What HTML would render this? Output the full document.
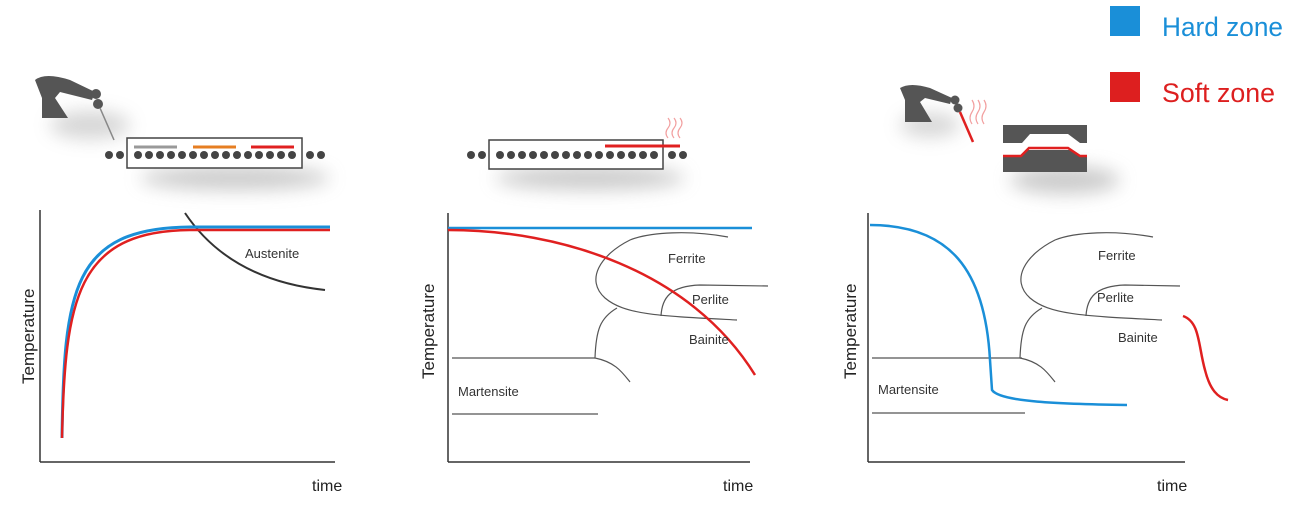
<!DOCTYPE html>
<html><head><meta charset="utf-8"><style>
html,body{margin:0;padding:0;background:#fff;}
svg{display:block;font-family:"Liberation Sans",sans-serif;}
</style></head><body>
<svg width="1299" height="510" viewBox="0 0 1299 510" xmlns="http://www.w3.org/2000/svg">
<defs>
<filter id="sh" x="-30%" y="-60%" width="160%" height="260%"><feGaussianBlur stdDeviation="9"/></filter>
</defs>
<!-- legend -->
<rect x="1110" y="6" width="30" height="30" fill="#1a8fd8"/>
<text x="1162" y="36" font-size="27" fill="#1a8fd8" textLength="121" lengthAdjust="spacingAndGlyphs">Hard zone</text>
<rect x="1110" y="72" width="30" height="30" fill="#dd1f1f"/>
<text x="1162" y="102" font-size="27" fill="#dd1f1f" textLength="113" lengthAdjust="spacingAndGlyphs">Soft zone</text>

<!-- icons panel 1 -->
<g fill="#555">
<ellipse cx="90" cy="125" rx="40" ry="14" fill="#999" opacity="0.4" filter="url(#sh)"/>
<ellipse cx="235" cy="178" rx="95" ry="12" fill="#999" opacity="0.5" filter="url(#sh)"/>
<path d="M35 80 Q45 72 70 80 L95 92 L92 100 L60 92 L55 98 L68 118 L42 118 L42 98 Z"/>
<circle cx="96" cy="94" r="5"/><circle cx="98" cy="104" r="5"/>
<line x1="100" y1="108" x2="114" y2="140" stroke="#888" stroke-width="1.5"/>
<rect x="127" y="138" width="175" height="30" fill="#fff" stroke="#444" stroke-width="1.5"/>
<line x1="134" y1="147" x2="177" y2="147" stroke="#999" stroke-width="3"/>
<line x1="193" y1="147" x2="236" y2="147" stroke="#e67e22" stroke-width="3"/>
<line x1="251" y1="147" x2="294" y2="147" stroke="#e02020" stroke-width="3"/>
<g fill="#444">
<circle cx="109" cy="155" r="4"/><circle cx="120" cy="155" r="4"/>
<circle cx="138" cy="155" r="4"/><circle cx="149" cy="155" r="4"/><circle cx="160" cy="155" r="4"/><circle cx="171" cy="155" r="4"/><circle cx="182" cy="155" r="4"/><circle cx="193" cy="155" r="4"/><circle cx="204" cy="155" r="4"/><circle cx="215" cy="155" r="4"/><circle cx="226" cy="155" r="4"/><circle cx="237" cy="155" r="4"/><circle cx="248" cy="155" r="4"/><circle cx="259" cy="155" r="4"/><circle cx="270" cy="155" r="4"/><circle cx="281" cy="155" r="4"/><circle cx="292" cy="155" r="4"/>
<circle cx="310" cy="155" r="4"/><circle cx="321" cy="155" r="4"/>
</g>
</g>
<!-- icons panel 2 -->
<ellipse cx="590" cy="178" rx="95" ry="12" fill="#999" opacity="0.5" filter="url(#sh)"/>
<rect x="489" y="140" width="174" height="29" fill="#fff" stroke="#444" stroke-width="1.5"/>
<line x1="605" y1="146" x2="680" y2="146" stroke="#e02020" stroke-width="3"/>
<g fill="none" stroke="#f2a0a0" stroke-width="1.2"><path d="M668 118 q4 5 0 10 q-4 5 0 10"/><path d="M674 118 q4 5 0 10 q-4 5 0 10"/><path d="M680 118 q4 5 0 10 q-4 5 0 10"/></g>
<g fill="#444">
<circle cx="471" cy="155" r="4"/><circle cx="482" cy="155" r="4"/>
<circle cx="500" cy="155" r="4"/><circle cx="511" cy="155" r="4"/><circle cx="522" cy="155" r="4"/><circle cx="533" cy="155" r="4"/><circle cx="544" cy="155" r="4"/><circle cx="555" cy="155" r="4"/><circle cx="566" cy="155" r="4"/><circle cx="577" cy="155" r="4"/><circle cx="588" cy="155" r="4"/><circle cx="599" cy="155" r="4"/><circle cx="610" cy="155" r="4"/><circle cx="621" cy="155" r="4"/><circle cx="632" cy="155" r="4"/><circle cx="643" cy="155" r="4"/><circle cx="654" cy="155" r="4"/>
<circle cx="672" cy="155" r="4"/><circle cx="683" cy="155" r="4"/>
</g>
<!-- icons panel 3 -->
<ellipse cx="930" cy="125" rx="30" ry="12" fill="#999" opacity="0.4" filter="url(#sh)"/>
<ellipse cx="1065" cy="180" rx="55" ry="14" fill="#999" opacity="0.5" filter="url(#sh)"/>
<path d="M900 88 Q910 82 930 88 L952 98 L950 104 L925 98 L920 102 L932 122 L905 122 L905 100 Z" fill="#555"/>
<circle cx="955" cy="100" r="4.5" fill="#555"/><circle cx="958" cy="108" r="4.5" fill="#555"/>
<line x1="960" y1="112" x2="973" y2="142" stroke="#e02020" stroke-width="2.5"/>
<g fill="none" stroke="#f2a0a0" stroke-width="1.2"><path d="M972 100 q4 6 0 12 q-4 6 0 12"/><path d="M978 100 q4 6 0 12 q-4 6 0 12"/><path d="M984 100 q4 6 0 12 q-4 6 0 12"/></g>
<path d="M1003 125 H1087 V143 L1080 143 L1068 134 H1030 L1022 143 H1003 Z" fill="#555"/>
<path d="M1003 157 H1020 L1028 150 H1070 L1080 157 H1087 V172 H1003 Z" fill="#555"/>
<path d="M1003 156 H1021 L1029 148 H1068 L1080 156 H1087" stroke="#e02020" stroke-width="2.5" fill="none"/>

<!-- panel 1 chart -->
<g stroke="#333" stroke-width="1.5" fill="none">
<line x1="40" y1="210" x2="40" y2="462"/><line x1="40" y1="462" x2="335" y2="462"/>
<path d="M185 213 Q230 280 325 290" stroke-width="2"/>
</g>
<path d="M62 438 C64 290 72 228 190 227 L330 227" stroke="#1a8fd8" stroke-width="3" fill="none"/>
<path d="M62 438 C65 300 76 231 190 230 L330 230" stroke="#e02020" stroke-width="2.5" fill="none"/>
<text x="245" y="258" font-size="13" fill="#333">Austenite</text>
<text x="312" y="491" font-size="16" fill="#222">time</text>
<text transform="translate(34,384) rotate(-90)" font-size="17" fill="#222">Temperature</text>

<!-- panel 2 chart -->
<g stroke="#333" stroke-width="1.5" fill="none">
<line x1="448" y1="213" x2="448" y2="462"/><line x1="448" y1="462" x2="750" y2="462"/>
</g>
<g stroke="#555" stroke-width="1.2" fill="none">
<line x1="452" y1="358" x2="595" y2="358"/><line x1="452" y1="414" x2="598" y2="414"/>
<path d="M728 237 C690 230 650 232 630 240 C600 255 585 280 605 298 C625 315 660 316 737 320"/>
<path d="M661 316 C662 298 670 286 700 285 L768 286"/>
<path d="M617 308 C600 318 596 330 595 358 C615 362 622 372 630 382"/>
</g>
<line x1="448" y1="228" x2="752" y2="228" stroke="#1a8fd8" stroke-width="2.5"/>
<path d="M448 230 C560 230 690 270 755 375" stroke="#e02020" stroke-width="2.5" fill="none"/>
<text x="668" y="263" font-size="13" fill="#333">Ferrite</text>
<text x="692" y="304" font-size="13" fill="#333">Perlite</text>
<text x="689" y="344" font-size="13" fill="#333">Bainite</text>
<text x="458" y="396" font-size="13" fill="#333">Martensite</text>
<text x="723" y="491" font-size="16" fill="#222">time</text>
<text transform="translate(434,379) rotate(-90)" font-size="17" fill="#222">Temperature</text>

<!-- panel 3 chart -->
<g stroke="#333" stroke-width="1.5" fill="none">
<line x1="868" y1="213" x2="868" y2="462"/><line x1="868" y1="462" x2="1185" y2="462"/>
</g>
<g stroke="#555" stroke-width="1.2" fill="none">
<line x1="872" y1="358" x2="1022" y2="358"/><line x1="872" y1="413" x2="1025" y2="413"/>
<g transform="translate(425,0)">
<path d="M728 237 C690 230 650 232 630 240 C600 255 585 280 605 298 C625 315 660 316 737 320"/>
<path d="M661 316 C662 298 670 286 700 285 L755 286"/>
<path d="M617 308 C600 318 596 330 595 358 C615 362 622 372 630 382"/>
</g>
</g>
<path d="M870 225 C950 225 985 270 990 360 L992 390 C1000 402 1060 404 1127 405" stroke="#1a8fd8" stroke-width="2.5" fill="none"/>
<path d="M1183 316 C1200 322 1198 345 1205 370 C1210 390 1218 398 1228 400" stroke="#e02020" stroke-width="2.5" fill="none"/>
<text x="1098" y="260" font-size="13" fill="#333">Ferrite</text>
<text x="1097" y="302" font-size="13" fill="#333">Perlite</text>
<text x="1118" y="342" font-size="13" fill="#333">Bainite</text>
<text x="878" y="394" font-size="13" fill="#333">Martensite</text>
<text x="1157" y="491" font-size="16" fill="#222">time</text>
<text transform="translate(856,379) rotate(-90)" font-size="17" fill="#222">Temperature</text>
</svg>
</body></html>
